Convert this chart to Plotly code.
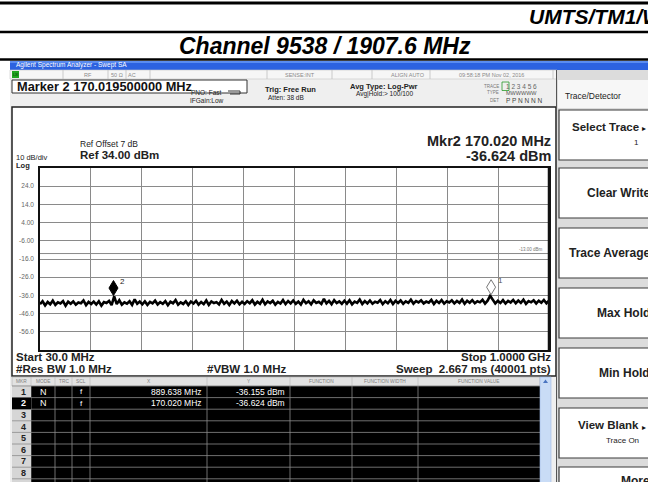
import plotly.graph_objects as go
import numpy as np

W, H = 648, 482

# ---------------- data ----------------
start_mhz, stop_mhz = 30.0, 1000.0
ref_level_dbm = 34.0
db_per_div = 10.0
n_div = 10
display_line_dbm = -13.0
y_tick_text = ["", "24.0", "14.0", "4.00", "-6.00", "-16.0", "-26.0", "-36.0", "-46.0", "-56.0", ""]

trace_dbm = [
    -40.8, -39.2, -41.5, -39.6, -40.9, -38.9, -41.2, -39.8, -40.4, -39.1, -41.7, -39.5, -40.6, -39.3, -41.1, -39.9, -40.3, -38.8, -41.4, -39.6,
    -40.7, -39.4, -41.0, -39.2, -41.6, -39.7, -40.2, -39.0, -41.3, -36.6, -40.8, -38.7, -41.1, -39.8, -40.5, -39.2, -41.2, -38.2, -40.6, -39.4,
    -40.9, -39.3, -41.2, -39.6, -40.4, -38.9, -41.0, -39.7, -40.6, -39.1, -41.4, -39.5, -40.3, -38.6, -41.1, -39.8, -40.7, -39.2, -41.3, -39.4,
    -40.5, -39.0, -41.1, -39.6, -40.8, -38.8, -41.2, -39.3, -40.2, -39.7, -41.0, -38.5, -40.6, -39.4, -41.3, -39.1, -40.4, -38.9, -40.9, -39.5,
    -40.7, -39.2, -40.3, -38.7, -41.0, -39.5, -40.6, -38.4, -40.9, -39.3, -40.2, -38.9, -41.1, -39.6, -40.5, -38.6, -40.8, -39.1, -40.4, -38.8,
    -40.6, -39.4, -41.0, -38.5, -40.3, -39.2, -40.9, -38.7, -40.1, -39.5, -40.7, -37.9, -40.4, -39.0, -40.8, -38.6, -40.2, -39.3, -40.6, -38.9,
    -40.5, -38.7, -40.9, -39.4, -40.1, -38.3, -40.7, -39.1, -40.4, -38.8, -40.6, -39.5, -40.0, -38.6, -40.8, -39.2, -40.3, -38.5, -40.7, -39.0,
    -40.2, -38.8, -40.6, -39.3, -40.1, -38.4, -40.5, -39.1, -39.9, -38.7, -40.4, -39.4, -40.0, -38.5, -40.7, -39.0, -40.2, -38.6, -40.5, -39.2,
    -39.9, -38.7, -40.4, -39.1, -40.1, -38.3, -40.6, -38.9, -40.0, -38.6, -40.3, -39.2, -39.8, -38.4, -40.5, -38.9, -36.2, -38.7, -40.4, -39.0,
    -40.2, -38.6, -40.5, -39.0, -39.9, -38.5, -40.3, -38.8, -40.1, -38.4, -40.6, -39.1, -39.8, -38.7, -40.4, -38.9, -40.0, -38.5, -40.3, -38.9,
]

marker_ids = ["1", "2"]
marker_freq_mhz = [889.638, 170.020]
marker_level_dbm = [-36.155, -36.624]
marker_filled = [False, True]

softkey_labels = ["Select Trace", "Clear Write", "Trace Average", "Max Hold", "Min Hold", "View Blank", "More"]
softkey_sub = ["1", "", "", "", "", "Trace On", ""]
softkey_arrow = [True, False, False, False, False, True, False]

table_headers = ["MKR", "MODE", "TRC", "SCL", "X", "Y", "FUNCTION", "FUNCTION WIDTH", "FUNCTION VALUE"]
table_modes = ["N", "N"]
table_scl = ["f", "f"]

# ---------------- helpers ----------------
FONT = "Liberation Sans"
shapes, annos = [], []


def X(px):
    return px / W


def Y(py):
    return 1 - py / H


def rect(x0, y0, x1, y1, fill, lc=None, lw=0, layer="below"):
    shapes.append(dict(type="rect", xref="paper", yref="paper", x0=X(x0), x1=X(x1), y0=Y(y1), y1=Y(y0),
                       fillcolor=fill, line=dict(color=lc or fill, width=lw), layer=layer))


def line(x0, y0, x1, y1, color, w=1, layer="below"):
    shapes.append(dict(type="line", xref="paper", yref="paper", x0=X(x0), x1=X(x1), y0=Y(y0), y1=Y(y1),
                       line=dict(color=color, width=w), layer=layer))


def text(x, y, s, size, color="#111", anchor="left", bold=False, italic=False, family=FONT):
    annos.append(dict(xref="paper", yref="paper", x=X(x), y=Y(y), text=s, showarrow=False,
                      xanchor=anchor, yanchor="middle",
                      font=dict(family=family, size=size, color=color,
                                weight="bold" if bold else "normal",
                                style="italic" if italic else "normal")))


# ---------------- document header ----------------
line(0, 3, W, 3, "#000", 3)
text(527, 17, "UMTS/TM1/W", 21, "#000", bold=True, italic=True)
line(0, 32, W, 32, "#000", 2.5)
text(325, 46.5, "Channel 9538 / 1907.6 MHz", 23, "#000", "center", bold=True, italic=True)
line(0, 59.5, W, 59.5, "#000", 2.5)

# ---------------- screenshot frame ----------------
rect(10, 61, W, H, "#efefef")
rect(10, 61, W, 70, "#2c62e0")
rect(10, 61, W, 63, "#5a8cf0")
text(14, 65.5, "Agilent Spectrum Analyzer - Swept SA", 6.5, "#ffffff")

# status row
rect(10, 70, 557, 79, "#f6f6f6", "#c8c8c8", 0.6)
rect(12, 71, 19, 78, "#1fa51f")
text(15.5, 74.5, "LXI", 3.5, "#003300", "center")
for sx in [63, 108, 126, 150, 267, 332, 372, 430, 553]:
    line(sx, 70, sx, 79, "#c0c0c0", 0.8)
for sx, s in [(88, "RF"), (117, "50 Ω"), (132, "AC"), (300, "SENSE:INT"), (408, "ALIGN AUTO"),
              (491, "09:58:18 PM Nov 02, 2016")]:
    text(sx, 74.5, s, 5.5, "#8a8a8a", "center")

# marker entry row
rect(12, 80, 247, 93, "#ffffff", "#333333", 1)
text(15, 86.2, "Marker 2 170.019500000 MHz", 12.8, "#111", bold=True)
text(224, 92.5, "PNO: Fast", 6.5, "#222", "right")
text(226, 100, "IFGain:Low", 6.5, "#222", "right")
shapes.append(dict(type="path", xref="paper", yref="paper",
                   path=f"M {X(228)},{Y(91)} L {X(240)},{Y(91)} L {X(240)},{Y(94)} L {X(230)},{Y(94)}",
                   line=dict(color="#333", width=1)))
text(263, 89, "Trig: Free Run", 7.5, "#222", bold=True)
text(266, 98, "Atten: 38 dB", 6.5, "#222")
text(384, 86, "Avg Type: Log-Pwr", 7.5, "#222", "center", bold=True)
text(384, 94, "Avg|Hold:> 100/100", 6.5, "#222", "center")
text(501, 86, "TRACE", 4.5, "#777", "right")
text(504, 86, "1 2 3 4 5 6", 6.5, "#666")
rect(502, 82, 509, 90.5, "rgba(0,0,0,0)", "#2a9a2a", 0.8, "above")
text(501, 93, "TYPE", 4.5, "#777", "right")
text(504, 93, "MWWWWW", 5.5, "#555")
text(501, 100, "DET", 4.5, "#777", "right")
text(504, 100, "P P N N N N", 6.5, "#444")

# ---------------- graph box ----------------
rect(12, 107, 556, 376, "#ffffff", "#222222", 1.5)
text(78, 144, "Ref Offset 7 dB", 8.5, "#222")
text(78, 155, "Ref 34.00 dBm", 11.5, "#222", bold=True)
text(14, 157.5, "10 dB/div", 7.5, "#222")
text(14, 165, "Log", 7.5, "#222", bold=True)
text(553, 141, "Mkr2 170.020 MHz", 14.5, "#222", "right", bold=True)
text(553, 156.5, "-36.624 dBm", 14.5, "#222", "right", bold=True)
text(14, 357, "Start 30.0 MHz", 11.5, "#222", bold=True)
text(553, 357, "Stop 1.0000 GHz", 11.5, "#222", "right", bold=True)
text(14, 369, "#Res BW 1.0 MHz", 11.5, "#222", bold=True)
text(205, 369, "#VBW 1.0 MHz", 11.5, "#222", bold=True)
text(553, 369, "Sweep  2.667 ms (40001 pts)", 11.5, "#222", "right", bold=True)

# ---------------- marker table ----------------
tx0, tx1, ty0, ty1 = 12, 540, 377, H
hdr_b = 386
rect(tx0, ty0, tx1, hdr_b, "#e2e2e2", "#b0b0b0", 0.6)
rect(tx0, hdr_b, tx1, ty1 + 2, "#000000")
col_edges = [12, 31, 55, 72, 90, 207, 290, 352, 418, 540]
for i, h in enumerate(table_headers):
    cx = (col_edges[i] + col_edges[i + 1]) / 2
    text(cx, (ty0 + hdr_b) / 2, h, 4.8, "#808080", "center")
for cx in col_edges[1:-1]:
    line(cx, ty0, cx, hdr_b, "#b8b8b8", 0.6)
    line(cx, hdr_b, cx, ty1, "#8c8c8c", 0.8)
row_h = 11.6
rect(tx0, hdr_b, 31, ty1 + 2, "#d6d6d6")
for r in range(9):
    yy = hdr_b + r * row_h
    line(tx0, yy, tx1, yy, "#8c8c8c", 0.8)
for r in range(8):
    yc = hdr_b + (r + 0.5) * row_h
    if r == 1:
        rect(12, hdr_b + r * row_h, 31, hdr_b + (r + 1) * row_h, "#000000")
    text(28, yc, str(r + 1), 9, "#ffffff" if r == 1 else "#222", "right", bold=True)
for i, mid in enumerate(marker_ids):
    yc = hdr_b + (int(mid) - 0.5) * row_h
    text(43, yc, table_modes[i], 9, "#ffffff", "center")
    text(81, yc, table_scl[i], 8, "#ffffff", "center")
    text(204, yc, f"{marker_freq_mhz[i]:.3f} MHz", 8.5, "#ffffff", "right")
    text(287, yc, f"{marker_level_dbm[i]:.3f} dBm", 8.5, "#ffffff", "right")
rect(540, ty0, 551, ty1 + 2, "#c9dcf6", "#9db8e6", 0.6)
shapes.append(dict(type="path", xref="paper", yref="paper",
                   path=f"M {X(543)},{Y(383)} L {X(548)},{Y(383)} L {X(545.5)},{Y(379.5)} Z",
                   fillcolor="#4a74c0", line=dict(width=0)))

# ---------------- softkey panel ----------------
rect(557, 70, W, H, "#dcdcdc")
line(556.5, 70, 556.5, H, "#555", 1)
rect(558, 80, W + 2, 108, "#f7f7f7")
text(563, 96, "Trace/Detector", 8.5, "#222")
key_tops = [110, 168, 228, 288, 348, 408, 467]
for k, top in enumerate(key_tops):
    bottom = top + 50
    rect(559, top, W + 3, bottom, "#ffffff", "#3a3a3a", 1.2)
    cy = (top + bottom) / 2
    lab = softkey_labels[k]
    if softkey_sub[k]:
        text(641, cy - 8, lab, 11.5, "#222", "right", bold=True)
        text(641, cy + 7, softkey_sub[k], 8, "#222", "right")
    else:
        text(652, cy if k < 6 else top + 14, lab, 12, "#222", "right", bold=True)
    if softkey_arrow[k]:
        text(648, cy - 6, "▸", 8, "#111", "right")

# ---------------- plot ----------------
freqs = np.linspace(start_mhz, stop_mhz, len(trace_dbm))
bottom_dbm = ref_level_dbm - n_div * db_per_div
x_grid = [start_mhz + i * (stop_mhz - start_mhz) / n_div for i in range(n_div + 1)]
y_grid = [ref_level_dbm - i * db_per_div for i in range(n_div + 1)]

fig = go.Figure()
fig.add_trace(go.Scatter(x=freqs, y=trace_dbm, mode="lines",
                         line=dict(color="#000000", width=2.6), hoverinfo="skip", showlegend=False))

# display line
shapes.append(dict(type="line", xref="x", yref="y", x0=start_mhz, x1=stop_mhz,
                   y0=display_line_dbm, y1=display_line_dbm, line=dict(color="#8a8a8a", width=1), layer="below"))
annos.append(dict(xref="x", yref="y", x=stop_mhz, y=display_line_dbm, xanchor="right", yanchor="bottom",
                  xshift=-4, yshift=0, text=f"{display_line_dbm:.2f} dBm", showarrow=False,
                  font=dict(family=FONT, size=4.5, color="#777")))

# marker diamonds
for mid, f, lv, filled in zip(marker_ids, marker_freq_mhz, marker_level_dbm, marker_filled):
    shapes.append(dict(type="path", xref="x", yref="y", xsizemode="pixel", ysizemode="pixel",
                       xanchor=f, yanchor=lv, path="M 0 1 L 4.5 8.5 L 0 16 L -4.5 8.5 Z",
                       fillcolor="#000000" if filled else "#ffffff",
                       line=dict(color="#000000" if filled else "#777777", width=1), layer="above"))
    annos.append(dict(xref="x", yref="y", x=f, y=lv, xanchor="left", yanchor="middle",
                      xshift=5, yshift=15, text=mid, showarrow=False,
                      font=dict(family=FONT, size=8, color="#222" if filled else "#555")))

# right border emphasis
shapes.append(dict(type="line", xref="x", yref="paper", x0=stop_mhz, x1=stop_mhz,
                   y0=Y(350), y1=Y(168), line=dict(color="#111", width=2.5), layer="above"))

fig.update_layout(
    width=W, height=H, margin=dict(l=0, r=0, t=0, b=0),
    paper_bgcolor="#ffffff", plot_bgcolor="rgba(0,0,0,0)",
    showlegend=False,
    xaxis=dict(domain=[X(40), X(549)], range=[start_mhz, stop_mhz], tickvals=x_grid,
               showticklabels=False, ticks="", showgrid=True, gridcolor="#8a8a8a", gridwidth=1,
               zeroline=False, showline=True, linecolor="#111", linewidth=1.5, mirror=True, fixedrange=True),
    yaxis=dict(domain=[Y(350), Y(168)], range=[bottom_dbm, ref_level_dbm], tickvals=y_grid,
               ticktext=y_tick_text, ticks="", ticklabelstandoff=3,
               tickfont=dict(family=FONT, size=6.5, color="#666"),
               showgrid=True, gridcolor="#8a8a8a", gridwidth=1,
               zeroline=False, showline=True, linecolor="#111", linewidth=1.5, mirror=True, fixedrange=True),
    shapes=shapes, annotations=annos,
)

fig.write_html("out.html", config={"displayModeBar": False},
               post_script="document.body.style.margin='0px';")
